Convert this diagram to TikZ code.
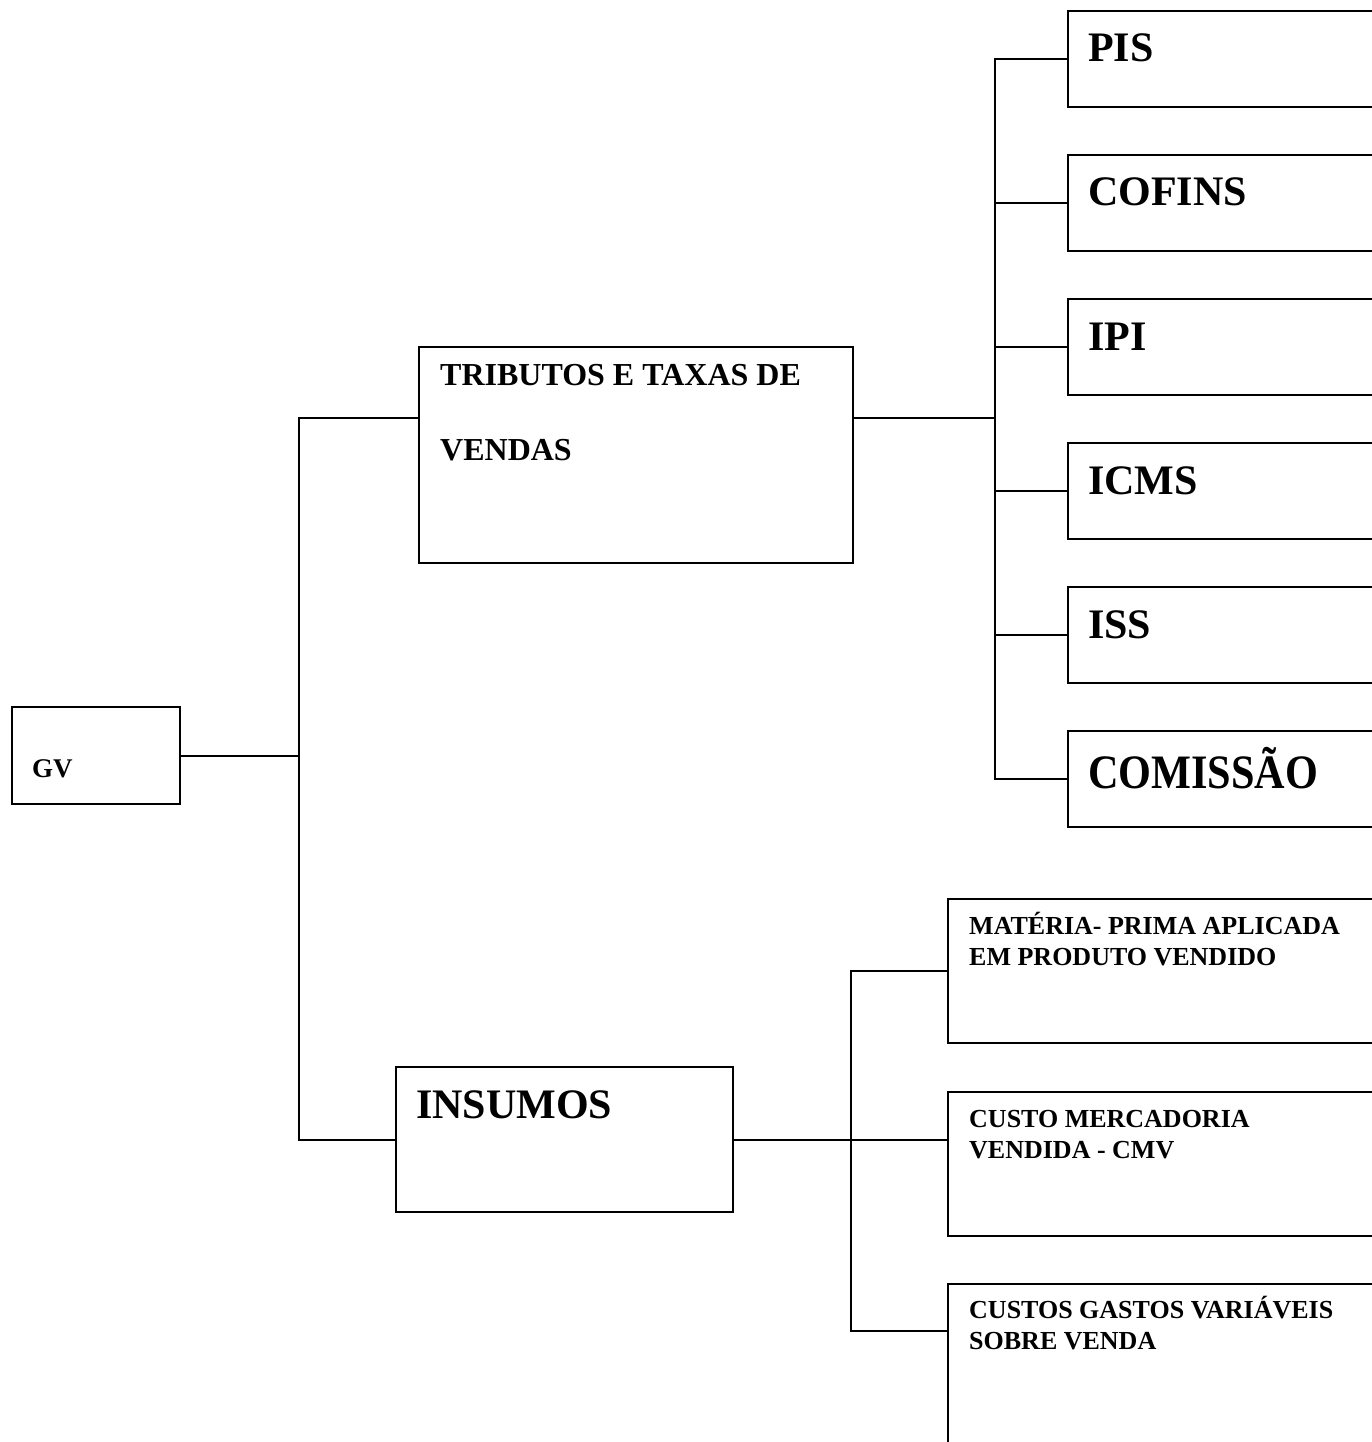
\documentclass[tikz,border=0pt]{standalone}
\usepackage{fontspec}
\setmainfont{Liberation Serif}

\begin{document}
\begin{tikzpicture}[
  x=1pt,
  y=-1pt,
  line join=miter,
  box/.style={draw=black,line width=2pt,rectangle,inner sep=0pt,anchor=north west},
  link/.style={draw=black,line width=2pt,line cap=rect},
  lbl/.style={anchor=base west,inner sep=0pt},
  rootfont/.style={font=\fontsize{27}{32}\selectfont\bfseries},
  midfont/.style={font=\fontsize{32}{38}\selectfont\bfseries},
  bigfont/.style={font=\fontsize{42}{50}\selectfont\bfseries},
  smallfont/.style={font=\fontsize{26}{31}\selectfont\bfseries}
]
  \useasboundingbox (0,0) rectangle (1372,1442);
  \clip (0,0) rectangle (1372,1442);

  % Root and the two groups.
  \node[box,minimum width=168,minimum height=97] (gv) at (11,706) {};
  \node[box,minimum width=434,minimum height=216] (trib) at (418,346) {};
  \node[box,minimum width=337,minimum height=145] (insumos) at (395,1066) {};

  % Tax boxes, cut by the right edge.
  \foreach \n [count=\k from 0] in {pis,cofins,ipi,icms,iss,comissao} {
    \node[box,minimum width=340,minimum height=96] (\n) at (1067,{10+144*\k}) {};
  }

  % Input boxes, cut by the right and bottom edges.
  \node[box,minimum width=440,minimum height=144] (mat) at (947,898) {};
  \node[box,minimum width=440,minimum height=144] (cmv) at (947,1091) {};
  \node[box,minimum width=440,minimum height=300] (cgv) at (947,1283) {};

  % Labels.
  \node[lbl,rootfont] (gv-txt) at (32,777) {GV};
  \node[lbl,midfont] (trib-txt1) at (440,385) {TRIBUTOS E TAXAS DE};
  \node[lbl,midfont] (trib-txt2) at (440,460) {VENDAS};
  \node[lbl,bigfont] (insumos-txt) at (416,1118) {INSUMOS};
  \foreach \n/\t [count=\k from 0] in {pis/PIS,cofins/COFINS,ipi/IPI,icms/ICMS,iss/ISS} {
    \node[lbl,bigfont] (\n-txt) at (1088,{62+144*\k}) {\t};
  }
  \node[lbl,font=\fontsize{48}{56}\selectfont\bfseries] (comissao-txt) at (1088,788) {\scalebox{0.88}[1]{COMISSÃO}};
  \node[lbl,smallfont] (mat-txt1) at (969,934) {MATÉRIA- PRIMA APLICADA};
  \node[lbl,smallfont] (mat-txt2) at (969,965) {EM PRODUTO VENDIDO};
  \node[lbl,smallfont] (cmv-txt1) at (969,1127) {CUSTO MERCADORIA};
  \node[lbl,smallfont] (cmv-txt2) at (969,1158) {VENDIDA - CMV};
  \node[lbl,smallfont] (cgv-txt1) at (969,1318) {CUSTOS GASTOS VARIÁVEIS};
  \node[lbl,smallfont] (cgv-txt2) at (969,1349) {SOBRE VENDA};

  % Junction points.
  \coordinate (trunk) at (299,418);
  \coordinate (bus) at (995,418);
  \coordinate (sub) at (851,1138);
  \coordinate (cgv-in) at ([yshift=-48pt]cgv.north west);

  % Root to groups.
  \draw[link] (gv.east) -- (gv.east -| trunk);
  \draw[link] (trunk) -- (trunk |- insumos.west);
  \draw[link] (trunk) -- (trunk -| trib.west);
  \draw[link] (trunk |- insumos.west) -- (insumos.west);

  % Taxes.
  \draw[link] (trunk -| trib.east) -- (bus);
  \draw[link] (bus |- pis.west) -- (bus |- comissao.west);
  \foreach \n in {pis,cofins,ipi,icms,iss,comissao} {
    \draw[link] (bus |- \n.west) -- (\n.west);
  }

  % Inputs.
  \draw[link] (insumos.east) -- (cmv.west |- insumos.east);
  \draw[link] (sub |- mat.west) -- (sub |- cgv-in);
  \draw[link] (sub |- mat.west) -- (mat.west);
  \draw[link] (sub |- cgv-in) -- (cgv-in);
\end{tikzpicture}
\end{document}
